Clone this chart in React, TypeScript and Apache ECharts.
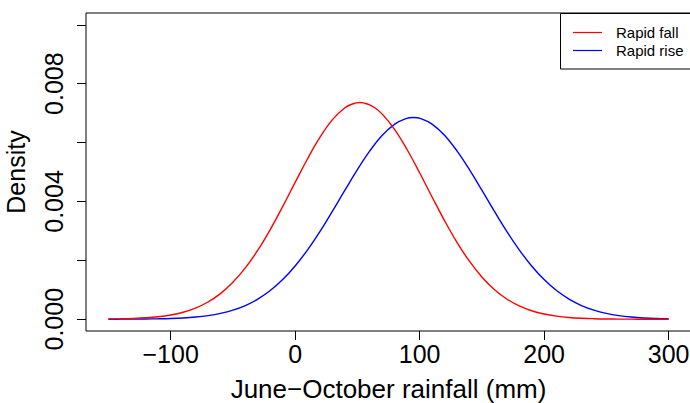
import React, { useEffect, useRef } from "react";
import * as echarts from "echarts";

const fallX = [
  -150, -140, -130, -120, -110, -100, -90, -80, -70, -60, -50, -40, -30, -20, -10,
  0, 10, 20, 30, 40, 46, 52, 58, 64, 70, 80, 90, 100, 110, 120, 130, 140, 150, 160,
  170, 180, 190, 200, 210, 220, 230, 240, 250, 260, 270, 280, 290, 300,
];

const rapidFall = [
  0.0000071, 0.0000138, 0.0000262, 0.0000479, 0.0000845, 0.000144, 0.000238,
  0.000379, 0.000585, 0.00087, 0.001253, 0.001743, 0.002343, 0.003046, 0.003826,
  0.004646, 0.005451, 0.006182, 0.006778, 0.007182, 0.007310, 0.007360, 0.007310,
  0.007182, 0.006965, 0.006441, 0.005756, 0.004973, 0.004152, 0.00335, 0.002613,
  0.00197, 0.001435, 0.001011, 0.000688, 0.000453, 0.000288, 0.000177, 0.000105,
  0.0000603, 0.0000335, 0.000018, 0.0000093, 0.0000046, 0.0000022, 0.000001,
  0.0000004, 0.0000002,
];

const riseX = [
  -150, -140, -130, -120, -110, -100, -90, -80, -70, -60, -50, -40, -30, -20, -10,
  0, 10, 20, 30, 40, 50, 60, 70, 80, 89, 95, 101, 110, 120, 130, 140, 150, 160,
  170, 180, 190, 200, 210, 220, 230, 240, 250, 260, 270, 280, 290, 300,
];

const rapidRise = [
  0.000001, 0.000002, 0.0000039, 0.0000075, 0.0000139, 0.000025, 0.0000438,
  0.0000746, 0.000123, 0.000198, 0.000308, 0.000465, 0.000682, 0.000973, 0.001345,
  0.001808, 0.002358, 0.002986, 0.003672, 0.004383, 0.00508, 0.005717, 0.006246,
  0.006626, 0.006812, 0.006850, 0.006812, 0.006626, 0.006246, 0.005717, 0.00508,
  0.004383, 0.003672, 0.002986, 0.002358, 0.001808, 0.001345, 0.000973, 0.000682,
  0.000465, 0.000308, 0.000198, 0.000123, 0.0000746, 0.0000438, 0.000025,
  0.0000139,
];

const xTicks = [-100, 0, 100, 200, 300];
const yTicks = [0, 0.002, 0.004, 0.006, 0.008, 0.01];
const yLabels = [0, 0.004, 0.008];
const seriesNames = ["Rapid fall", "Rapid rise"];
const seriesColors = ["#ff0000", "#0000ff"];

const FONT = "'Liberation Sans', Arial, Helvetica, sans-serif";

export default function App() {
  const ref = useRef<HTMLDivElement>(null);

  useEffect(() => {
    if (!ref.current) return;
    const chart = echarts.init(ref.current, null, { renderer: "svg" });
    const toPairs = (xs: number[], ys: number[]) => xs.map((x, i) => [x, ys[i]]);

    chart.setOption({
      animation: false,
      backgroundColor: "#ffffff",
      grid: {
        left: 86,
        top: 13,
        width: 605,
        height: 318,
        containLabel: false,
        outerBoundsMode: "none",
        show: true,
        borderColor: "#000000",
        borderWidth: 1,
        backgroundColor: "transparent",
      },
      xAxis: {
        type: "value",
        min: -168,
        max: 318,
        name: "June\u2212October rainfall (mm)",
        nameLocation: "middle",
        nameGap: 45,
        nameTextStyle: { fontFamily: FONT, fontSize: 26, color: "#000" },
        axisLine: { show: false, onZero: false },
        splitLine: { show: false },
        axisTick: {
          show: true,
          inside: false,
          length: 9,
          customValues: xTicks,
          lineStyle: { color: "#000", width: 1 },
        },
        axisLabel: {
          customValues: xTicks,
          margin: 10,
          fontFamily: FONT,
          fontSize: 25,
          color: "#000",
          formatter: (v: number) => (v < 0 ? "\u2212" + Math.abs(v) : String(v)),
        },
      },
      yAxis: {
        type: "value",
        min: -0.0004,
        max: 0.0104,
        name: "Density",
        nameLocation: "middle",
        nameGap: 58,
        nameTextStyle: { fontFamily: FONT, fontSize: 25, color: "#000" },
        axisLine: { show: false, onZero: false },
        splitLine: { show: false },
        axisTick: {
          show: true,
          inside: false,
          length: 9,
          customValues: yTicks,
          lineStyle: { color: "#000", width: 1 },
        },
        axisLabel: {
          customValues: yLabels,
          rotate: 90,
          margin: 20,
          fontFamily: FONT,
          fontSize: 25,
          color: "#000",
          formatter: (v: number) => v.toFixed(3),
        },
      },
      series: [
        {
          name: seriesNames[0],
          type: "line",
          data: toPairs(fallX, rapidFall),
          smooth: 0.4,
          showSymbol: false,
          lineStyle: { color: seriesColors[0], width: 1.4 },
          itemStyle: { color: seriesColors[0] },
          z: 3,
        },
        {
          name: seriesNames[1],
          type: "line",
          data: toPairs(riseX, rapidRise),
          smooth: 0.4,
          showSymbol: false,
          lineStyle: { color: seriesColors[1], width: 1.4 },
          itemStyle: { color: seriesColors[1] },
          z: 2,
        },
      ],
      graphic: [
        {
          type: "rect",
          z: 100,
          shape: { x: 560.5, y: 13.5, width: 140, height: 55.5 },
          style: { fill: "#ffffff", stroke: "#000000", lineWidth: 1 },
        },
        {
          type: "line",
          z: 101,
          shape: { x1: 573, y1: 32.5, x2: 602, y2: 32.5 },
          style: { stroke: seriesColors[0], lineWidth: 1.2 },
        },
        {
          type: "line",
          z: 101,
          shape: { x1: 573, y1: 50.5, x2: 602, y2: 50.5 },
          style: { stroke: seriesColors[1], lineWidth: 1.2 },
        },
        {
          type: "text",
          z: 101,
          x: 616,
          y: 32.5,
          style: {
            text: seriesNames[0],
            fontFamily: FONT,
            fontSize: 15,
            fill: "#000",
            verticalAlign: "middle",
            align: "left",
          },
        },
        {
          type: "text",
          z: 101,
          x: 616,
          y: 50.5,
          style: {
            text: seriesNames[1],
            fontFamily: FONT,
            fontSize: 15,
            fill: "#000",
            verticalAlign: "middle",
            align: "left",
          },
        },
      ],
    });

    return () => chart.dispose();
  }, []);

  return (
    <div
      ref={ref}
      style={{ position: "fixed", left: 0, top: 0, width: 690, height: 403 }}
    />
  );
}
